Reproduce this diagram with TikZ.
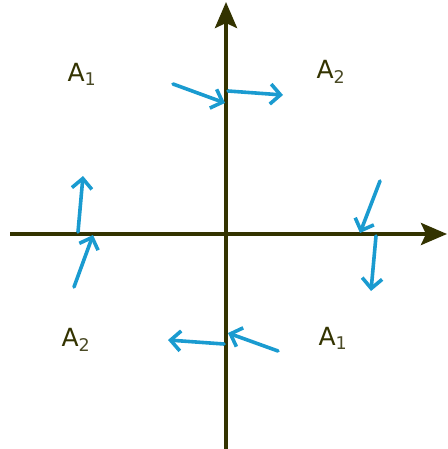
\documentclass[tikz,border=0pt]{standalone}
\usepackage{fontspec}
\setmainfont{DejaVu Sans}
\usetikzlibrary{arrows.meta}
\definecolor{axiscol}{HTML}{333300}
\definecolor{flowcol}{HTML}{1A9BD0}
\tikzset{
  axis/.style={draw=axiscol, line width=4pt, -{Stealth[length=26pt,width=22pt,inset=5pt]}},
  flow/.style={draw=flowcol, line width=3.6pt, line cap=round, -{Straight Barb[length=10pt,width=20pt,line width=3.6pt]}},
  lab/.style={text=axiscol, font=\fontsize{25pt}{28pt}\selectfont, inner sep=0pt}
}
\begin{document}
\begin{tikzpicture}[x=1pt,y=-1pt]
\useasboundingbox (0,0) rectangle (447,449);
% axes
\coordinate (ybot) at (226,449);
\coordinate (ytop) at (226,2);
\coordinate (xl) at (10,234);
\coordinate (xr) at (447,234);
\draw[axis] (ybot) -- (ytop);
\draw[axis] (xl) -- (xr);
% labels
\node[lab] (a1) at (82,74) {A\textsubscript{\color{axiscol!70!gray}1}};
\node[lab] (a2) at (331,72) {A\textsubscript{\color{axiscol!70!gray}2}};
\node[lab] (a3) at (76,340) {A\textsubscript{\color{axiscol!70!gray}2}};
\node[lab] (a4) at (333,338) {A\textsubscript{\color{axiscol!70!gray}1}};
% flow arrows
\coordinate (t1s) at (173,84); \coordinate (t1e) at (225,103);
\coordinate (t2s) at (228,91); \coordinate (t2e) at (283,95);
\coordinate (l1s) at (78,232); \coordinate (l1e) at (83,176);
\coordinate (l2s) at (74,287); \coordinate (l2e) at (93,235);
\coordinate (r1s) at (380,181); \coordinate (r1e) at (360,233);
\coordinate (r2s) at (376,236); \coordinate (r2e) at (371,291);
\coordinate (b1s) at (224,344); \coordinate (b1e) at (168,340);
\coordinate (b2s) at (278,351); \coordinate (b2e) at (228,333);
\foreach \n in {t1,t2,l1,l2,r1,r2,b1,b2}
  \draw[flow] (\n s) -- (\n e);
\end{tikzpicture}
\end{document}
